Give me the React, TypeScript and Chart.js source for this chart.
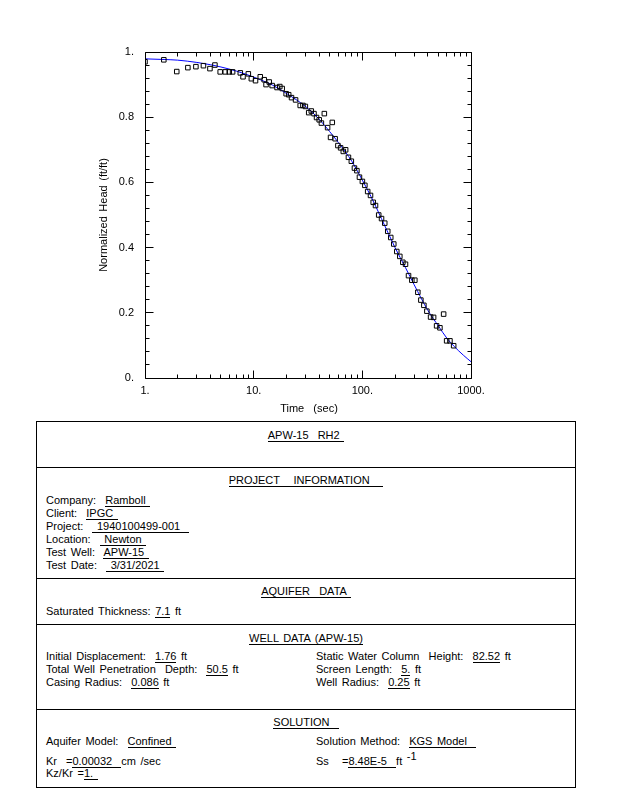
import React, { useEffect, useRef } from 'react';
import { Chart, registerables } from 'chart.js';
Chart.register(...registerables);

// Observed data (time in sec, normalized head ft/ft)
const timeSec = [1.0, 1.49, 1.96, 2.48, 2.94, 3.45, 3.96, 4.4, 4.92, 5.48, 5.96, 6.4, 7.53, 7.98, 8.93, 9.52, 10.4, 11.5, 12.5, 13.0, 13.9, 14.8, 16.4, 17.4, 18.3, 19.9, 21.0, 22.3, 24.3, 26.8, 28.4, 29.9, 32.1, 33.9, 35.9, 37.9, 40.1, 42.0, 44.7, 47.9, 51.0, 52.9, 56.2, 59.6, 63.1, 66.8, 70.2, 74.5, 79.2, 84.6, 89.1, 94.1, 100.1, 105.5, 112.0, 118.9, 125.9, 132.2, 141.5, 150.2, 160.8, 171.4, 182.6, 194.7, 207.5, 221.2, 235.8, 249.6, 266.1, 285.4, 304.2, 324.2, 345.6, 368.3, 392.6, 424.7, 452.7, 482.6, 517.6, 560.0, 596.9, 640.2, 692.6];
const normHead = [0.970, 0.976, 0.940, 0.952, 0.955, 0.958, 0.949, 0.960, 0.939, 0.939, 0.939, 0.939, 0.936, 0.924, 0.933, 0.918, 0.912, 0.924, 0.915, 0.900, 0.908, 0.897, 0.891, 0.894, 0.888, 0.872, 0.869, 0.860, 0.853, 0.836, 0.836, 0.833, 0.814, 0.819, 0.811, 0.799, 0.792, 0.782, 0.811, 0.768, 0.738, 0.784, 0.734, 0.713, 0.706, 0.695, 0.700, 0.677, 0.665, 0.644, 0.636, 0.616, 0.603, 0.591, 0.572, 0.560, 0.539, 0.529, 0.500, 0.489, 0.475, 0.450, 0.431, 0.411, 0.388, 0.373, 0.355, 0.349, 0.314, 0.300, 0.300, 0.263, 0.239, 0.223, 0.205, 0.187, 0.186, 0.160, 0.154, 0.196, 0.114, 0.114, 0.099];

// Fitted KGS model curve
const fitTime = [1, 1.5, 2, 3, 4, 5, 7, 10, 15, 20, 30, 40, 50, 60, 70, 80, 100, 120, 150, 200, 250, 300, 400, 500, 600, 700, 850, 1000];
const fitHead = [0.979, 0.977, 0.975, 0.968, 0.961, 0.954, 0.941, 0.923, 0.898, 0.873, 0.833, 0.794, 0.756, 0.723, 0.693, 0.665, 0.607, 0.557, 0.489, 0.400, 0.338, 0.286, 0.208, 0.160, 0.122, 0.097, 0.070, 0.050];

const xTickValues = [1, 10, 100, 1000];
const xTickLabels = ['1.', '10.', '100.', '1000.'];
const yTickValues = [0, 0.2, 0.4, 0.6, 0.8, 1];
const yTickLabels = ['0.', '0.2', '0.4', '0.6', '0.8', '1.'];
const xTitle = 'Time  (sec)';
const yTitle = 'Normalized Head (ft/ft)';

const FONT = '"Liberation Sans", Arial, sans-serif';

const frameTicksPlugin = {
  id: 'frameTicks',
  afterDatasetsDraw(chart: any) {
    const { ctx, chartArea } = chart;
    const xs = chart.scales.x;
    const ys = chart.scales.y;
    const L = Math.floor(chartArea.left) + 0.5;
    const R = Math.floor(chartArea.right) + 0.5;
    const T = Math.floor(chartArea.top) + 0.5;
    const B = Math.floor(chartArea.bottom) + 0.5;
    ctx.save();
    ctx.strokeStyle = '#000';
    ctx.lineWidth = 1;
    ctx.beginPath();
    ctx.moveTo(L, T); ctx.lineTo(R, T); ctx.lineTo(R, B); ctx.lineTo(L, B); ctx.closePath();
    for (let d = 1; d <= 1000; d *= 10) {
      for (let k = 1; k <= 9; k++) {
        const v = k * d;
        if (v > 1000) break;
        const major = k === 1;
        const px = Math.floor(xs.getPixelForValue(v)) + 0.5;
        const len = major ? 8 : 4;
        ctx.moveTo(px, B); ctx.lineTo(px, B - len);
        ctx.moveTo(px, T); ctx.lineTo(px, T + len);
      }
    }
    for (let i = 0; i <= 25; i++) {
      const v = i * 0.04;
      const major = i % 5 === 0;
      const py = Math.floor(ys.getPixelForValue(v)) + 0.5;
      const len = major ? 8 : 4;
      ctx.moveTo(L, py); ctx.lineTo(L + len, py);
      ctx.moveTo(R, py); ctx.lineTo(R - len, py);
    }
    ctx.stroke();
    ctx.fillStyle = '#000';
    ctx.font = `11px ${FONT}`;
    ctx.textAlign = 'center';
    ctx.textBaseline = 'middle';
    ctx.fillText(xTitle, 309, 409);
    ctx.translate(104, 215);
    ctx.rotate(-Math.PI / 2);
    ctx.fillText(yTitle, 0, 0);
    ctx.restore();
  },
};

function ChartCanvas() {
  const ref = useRef<HTMLCanvasElement | null>(null);
  useEffect(() => {
    if (!ref.current) return;
    const chart = new Chart(ref.current, {
      type: 'scatter',
      data: {
        datasets: [
          {
            data: fitTime.map((t, i) => ({ x: t, y: fitHead[i] })),
            showLine: true,
            borderColor: '#0000ff',
            borderWidth: 1,
            pointRadius: 0,
            cubicInterpolationMode: 'monotone',
            order: 2,
          } as any,
          {
            data: timeSec.map((t, i) => ({ x: t, y: normHead[i] })),
            pointStyle: 'rect',
            pointRadius: 3.2,
            borderColor: '#000',
            backgroundColor: 'rgba(0,0,0,0)',
            borderWidth: 1,
            order: 1,
          } as any,
        ],
      },
      options: {
        responsive: false,
        animation: false,
        devicePixelRatio: 1,
        layout: { padding: { top: 52, right: 147, left: 0, bottom: 0 } },
        plugins: { legend: { display: false }, tooltip: { enabled: false } },
        scales: {
          x: {
            type: 'logarithmic',
            min: 1,
            max: 1000,
            grid: { display: false, drawTicks: false },
            border: { display: false },
            ticks: {
              autoSkip: false,
              maxRotation: 0,
              padding: 6,
              color: '#000',
              font: { family: FONT, size: 11 },
              callback: (v: any) => {
                const i = xTickValues.indexOf(Number(v));
                return i >= 0 ? xTickLabels[i] : '';
              },
            },
            afterBuildTicks: (s: any) => {
              s.ticks = xTickValues.map((v) => ({ value: v }));
            },
            afterFit: (s: any) => {
              s.height = 37;
            },
          },
          y: {
            type: 'linear',
            min: 0,
            max: 1,
            grid: { display: false, drawTicks: false },
            border: { display: false },
            ticks: {
              autoSkip: false,
              padding: 11,
              color: '#000',
              font: { family: FONT, size: 11 },
              callback: (v: any) => {
                const i = yTickValues.indexOf(Number(v));
                return i >= 0 ? yTickLabels[i] : '';
              },
            },
            afterBuildTicks: (s: any) => {
              s.ticks = yTickValues.map((v) => ({ value: v }));
            },
            afterFit: (s: any) => {
              s.width = 145;
            },
          },
        },
      } as any,
      plugins: [frameTicksPlugin],
    });
    return () => chart.destroy();
  }, []);
  return (
    <canvas
      ref={ref}
      width={618}
      height={415}
      style={{ position: 'absolute', left: 0, top: 0, width: 618, height: 415 }}
    />
  );
}

const U = ({ children }: { children: React.ReactNode }) => (
  <span style={{ borderBottom: '1px solid #000' }}>{children}</span>
);

const Row = ({ x, y, children, center }: { x?: number; y: number; children: React.ReactNode; center?: boolean }) => (
  <div
    style={{
      position: 'absolute',
      left: center ? 36 : x,
      width: center ? 540 : undefined,
      textAlign: center ? 'center' : 'left',
      top: y - 7,
      height: 14,
      lineHeight: '14px',
      whiteSpace: 'pre',
    }}
  >
    {children}
  </div>
);

const HLine = ({ y }: { y: number }) => (
  <div style={{ position: 'absolute', left: 36, top: y, width: 540, height: 1, background: '#000' }} />
);

export default function App() {
  return (
    <div
      style={{
        position: 'absolute',
        left: 0,
        top: 0,
        width: 618,
        height: 800,
        background: '#fff',
        fontFamily: FONT,
        fontSize: 11,
        color: '#000',
        wordSpacing: 1.5,
        overflow: 'hidden',
      }}
    >
      <ChartCanvas />
      <div style={{ position: 'absolute', left: 36, top: 421, width: 540, height: 367, border: '1px solid #000', boxSizing: 'border-box' }} />
      <HLine y={467} />
      <HLine y={578} />
      <HLine y={624} />
      <HLine y={709} />

      <Row center y={435}><U>APW-15  RH2 </U></Row>

      <Row center y={480}><U>PROJECT   INFORMATION   </U></Row>
      <Row x={46} y={500}>Company:  <U>Ramboll </U></Row>
      <Row x={46} y={513}>Client:  <U>IPGC </U></Row>
      <Row x={46} y={526}>Project:  <U> 1940100499-001  </U></Row>
      <Row x={46} y={539}>Location:  <U> Newton </U></Row>
      <Row x={46} y={552}>Test Well:  <U>APW-15 </U></Row>
      <Row x={46} y={565}>Test Date:  <U> 3/31/2021 </U></Row>

      <Row center y={591}><U>AQUIFER  DATA </U></Row>
      <Row x={46} y={611}>Saturated Thickness: <U>7.1</U> ft</Row>

      <Row center y={638}><U>WELL DATA (APW-15)</U></Row>
      <Row x={46} y={656}>Initial Displacement:  <U>1.76</U> ft</Row>
      <Row x={46} y={669}>Total Well Penetration  Depth:  <U>50.5</U> ft</Row>
      <Row x={46} y={682}>Casing Radius:  <U>0.086</U> ft</Row>
      <Row x={316} y={656}>Static Water Column  Height:  <U>82.52</U> ft</Row>
      <Row x={316} y={669}>Screen Length:  <U>5.</U> ft</Row>
      <Row x={316} y={682}>Well Radius:  <U>0.25</U> ft</Row>

      <Row center y={722}><U>SOLUTION  </U></Row>
      <Row x={46} y={741}>Aquifer Model:  <U>Confined </U></Row>
      <Row x={316} y={741}>Solution Method:  <U>KGS Model  </U></Row>
      <Row x={46} y={761}>Kr</Row>
      <Row x={66} y={761}>=<U>0.00032  </U>cm /sec</Row>
      <Row x={316} y={761}>Ss</Row>
      <Row x={342} y={761}>=<U>8.48E-5  </U>ft <span style={{ position: 'relative', top: -5 }}>-1</span></Row>
      <Row x={46} y={773}>Kz/Kr =<U>1. </U></Row>
    </div>
  );
}
